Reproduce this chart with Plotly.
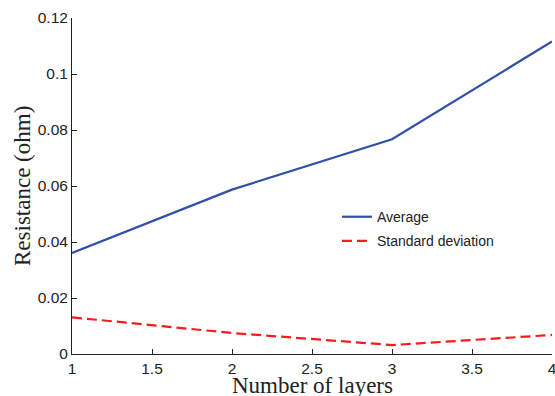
import plotly.graph_objects as go

# Measured resistance versus number of stacked layers
layers = [1, 2, 3, 4]
average = [0.0361, 0.0587, 0.0767, 0.1116]
std_dev = [0.0131, 0.0075, 0.0032, 0.0068]

x_ticks = [1, 1.5, 2, 2.5, 3, 3.5, 4]
x_tick_text = ["1", "1.5", "2", "2.5", "3", "3.5", "4"]
y_ticks = [0, 0.02, 0.04, 0.06, 0.08, 0.1, 0.12]
y_tick_text = ["0", "0.02", "0.04", "0.06", "0.08", "0.1", "0.12"]

x_label = "Number of layers"
y_label = "Resistance (ohm)"

fig = go.Figure()
fig.add_trace(go.Scatter(
    x=layers, y=average, mode="lines", name="Average",
    legendgroup="a",
    line=dict(color="#3050a8", width=2.2),
))
fig.add_trace(go.Scatter(
    x=layers, y=std_dev, mode="lines", name="Standard deviation",
    legendgroup="b",
    line=dict(color="#ff1a1a", width=2.2, dash="10px,5px"),
))

axis_common = dict(
    showgrid=False, zeroline=False, showline=True, linecolor="#222",
    linewidth=1, ticks="inside", ticklen=5, tickcolor="#222",
    ticklabeloverflow="allow", automargin=False,
    tickfont=dict(family="Liberation Sans, Arial, sans-serif", size=15.5, color="#222"),
)

title_font = dict(family="Liberation Serif, Times New Roman, serif", size=23, color="#222")

fig.update_layout(
    width=555, height=396,
    margin=dict(l=72, r=3, t=18, b=42),
    paper_bgcolor="white", plot_bgcolor="white",
    showlegend=True,
    legend=dict(
        x=0.552, y=0.455, xanchor="left", yanchor="top",
        bgcolor="rgba(0,0,0,0)", tracegroupgap=3,
        traceorder="grouped",
        font=dict(family="Liberation Sans, Arial, sans-serif", size=14, color="#222"),
    ),
    xaxis=dict(range=[1, 4], tickvals=x_ticks, ticktext=x_tick_text, **axis_common),
    yaxis=dict(range=[0, 0.12], tickvals=y_ticks, ticktext=y_tick_text, **axis_common),
    annotations=[
        dict(text=x_label, xref="paper", yref="paper", x=0.5, y=0,
             xanchor="center", yanchor="middle", yshift=-31,
             showarrow=False, font=title_font),
        dict(text=y_label, xref="paper", yref="paper", x=0, y=0.5,
             xanchor="center", yanchor="middle", xshift=-50, textangle=-90,
             showarrow=False, font=title_font),
    ],
)

fig.write_html("out.html")
